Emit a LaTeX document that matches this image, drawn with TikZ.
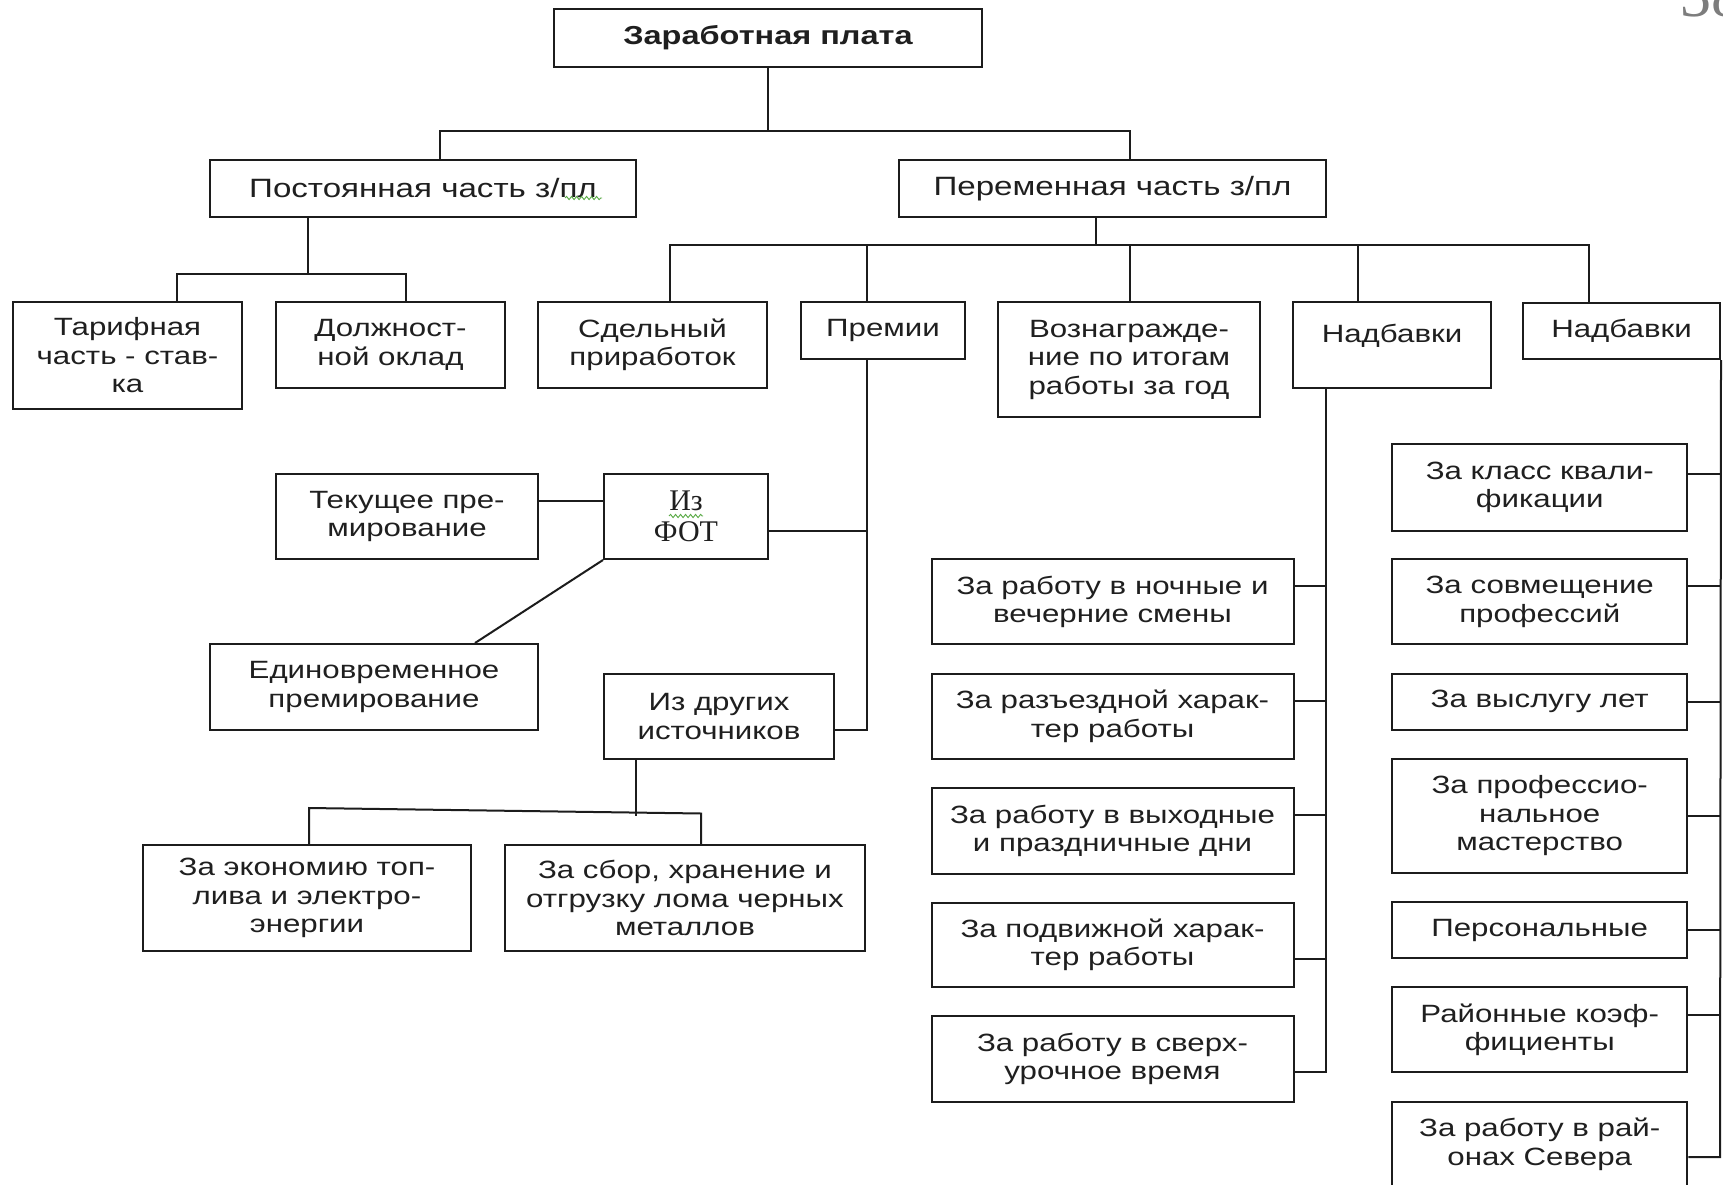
\documentclass[tikz,border=0pt]{standalone}
\usepackage{fontspec}
\usepackage{tikz}
\usetikzlibrary{decorations.pathmorphing}
\newfontfamily\boxfont[FakeStretch=1.25]{Liberation Sans}
\newfontfamily\fotfont{Liberation Serif}
\definecolor{linegray}{RGB}{28,28,28}
\definecolor{spellgreen}{RGB}{90,170,70}
\definecolor{pagegray}{RGB}{125,125,125}
\tikzset{
  box/.style={draw=linegray, line width=2pt, inner sep=0pt, align=center, text=black!88,
    font=\boxfont\fontsize{25}{28.5}\selectfont},
  boxsize/.style 2 args={minimum width=#1pt, minimum height=#2pt},
  link/.style={draw=linegray, line width=2pt},
  squiggle/.style={draw=spellgreen, line width=0.9pt, decorate,
    decoration={snake, amplitude=1.6pt, segment length=5pt}}
}

\begin{document}
\begin{tikzpicture}[x=1pt, y=-1pt]
  \useasboundingbox (0,0) rectangle (1723,1185);
  \node [box, boxsize={428}{58}, font=\boxfont\bfseries\fontsize{26}{29}\selectfont] (AA) at (768, 38) {Заработная плата};
  \node [box, boxsize={426.5}{57}, font=\boxfont\fontsize{26.5}{30}\selectfont] (BA) at (423, 188.5) {Постоянная часть з/пл};
  \node [box, boxsize={427}{57}, font=\boxfont\fontsize{26.5}{30}\selectfont] (BB) at (1112.5, 188.5) {Переменная часть з/пл};
  \node [box, boxsize={229}{107}] (CA) at (127.5, 355.5) {Тарифная\\часть - став-\\ка};
  \node [box, boxsize={229}{86}] (CB) at (390.5, 345) {Должност-\\ной оклад};
  \node [box, boxsize={229}{86}] (CC) at (652.5, 345) {Сдельный\\приработок};
  \node [box, boxsize={164}{57}] (CD) at (883, 330.5) {Премии};
  \node [box, boxsize={262}{115}] (CE) at (1129, 359.5) {Вознагражде-\\ние по итогам\\работы за год};
  \node [box, boxsize={198}{86}, text height=18pt, text depth=24pt] (CF) at (1392, 345) {Надбавки};
  \node [box, boxsize={197}{56}] (CG) at (1621.5, 331) {Надбавки};
  \node [box, boxsize={262.5}{85}] (DA) at (407, 516.5) {Текущее пре-\\мирование};
  \node [box, boxsize={164}{85}, font=\fotfont\fontsize{30}{31}\selectfont] (DB) at (686, 516.5) {Из\\ФОТ};
  \node [box, boxsize={328.5}{86}] (DC) at (374, 687) {Единовременное\\премирование};
  \node [box, boxsize={230}{85}] (DD) at (719, 716.5) {Из других\\источников};
  \node [box, boxsize={328}{106}] (EA) at (307, 898) {За экономию топ-\\лива и электро-\\энергии};
  \node [box, boxsize={360}{106}] (EB) at (685, 898) {За сбор, хранение и\\отгрузку лома черных\\металлов};
  \node [box, boxsize={362}{85.4}] (FA) at (1112.5, 601.7) {За работу в ночные и\\вечерние смены};
  \node [box, boxsize={362}{85.3}] (FB) at (1112.5, 716.4) {За разъездной харак-\\тер работы};
  \node [box, boxsize={362}{85.4}] (FC) at (1112.5, 831) {За работу в выходные\\и праздничные дни};
  \node [box, boxsize={362}{84}] (FD) at (1112.5, 945) {За подвижной харак-\\тер работы};
  \node [box, boxsize={362}{85.5}] (FE) at (1112.5, 1058.8) {За работу в сверх-\\урочное время};
  \node [box, boxsize={295.4}{86.3}] (GA) at (1539.7, 487.5) {За класс квали-\\фикации};
  \node [box, boxsize={295.4}{85.4}] (GB) at (1539.7, 601.7) {За совмещение\\профессий};
  \node [box, boxsize={295.4}{56}] (GC) at (1539.7, 701.8) {За выслугу лет};
  \node [box, boxsize={295.4}{113.7}] (GD) at (1539.7, 815.9) {За профессио-\\нальное\\мастерство};
  \node [box, boxsize={295.4}{56}] (GE) at (1539.7, 930) {Персональные};
  \node [box, boxsize={295.4}{84.7}] (GF) at (1539.7, 1029.7) {Районные коэф-\\фициенты};
  \node [box, boxsize={295.4}{85}] (GG) at (1539.7, 1144.5) {За работу в рай-\\онах Севера};
  \node [anchor=base west, inner sep=0pt, text=pagegray, font=\fotfont\fontsize{62}{62}\selectfont] (PN) at (1680, 17) {38};
  \coordinate (jA) at (768, 131);
  \coordinate (jB) at (308, 274);
  \coordinate (jC) at (1096, 245);
  \coordinate (jD) at (867, 730);
  \coordinate (jE) at (636, 816);
  \coordinate (jEL) at (309, 808);
  \coordinate (jER) at (701, 813.5);
  \coordinate (jF) at (1326, 1072);
  \coordinate (jG) at (1720, 1157);
  \draw [link] (AA) -- (jA);
  \draw [link] (440,0 |- BA.north) |- (jA) -| (1130,0 |- BB.north);
  \draw [link] (308,0 |- BA.south) -- (jB);
  \draw [link] (177,0 |- CA.north) |- (jB) -| (406,0 |- CB.north);
  \draw [link] (1096,0 |- BB.south) -- (jC);
  \draw [link] (670,0 |- CC.north) |- (jC) -| (1589,0 |- CG.north);
  \draw [link] (867,0 |- jC) -- (867,0 |- CD.north);
  \draw [link] (1130,0 |- jC) -- (1130,0 |- CE.north);
  \draw [link] (1358,0 |- jC) -- (1358,0 |- CF.north);
  \draw [link] (867,0 |- CD.south) -- (jD) -- (DD.east |- jD);
  \draw [link] (DB.east |- 0,531) -- (jD |- 0,531);
  \draw [link] (DA.east |- 0,501) -- (DB.west |- 0,501);
  \draw [link] (DB.south west) -- (475,0 |- DC.north);
  \draw [link] (636,0 |- DD.south) -- (jE);
  \draw [link] (jEL |- EA.north) -- (jEL) -- (jER) -- (jER |- EB.north);
  \draw [link] (1326,0 |- CF.south) -- (jF) -- (FE.east |- jF);
  \draw [link] (FA.east |- 0,586) -- (jF |- 0,586);
  \draw [link] (FB.east |- 0,700.5) -- (jF |- 0,700.5);
  \draw [link] (FC.east |- 0,815) -- (jF |- 0,815);
  \draw [link] (FD.east |- 0,959) -- (jF |- 0,959);
  \draw [link] (CG.south east) -- (jG) -- (GG.east |- jG);
  \draw [link] (GA.east |- 0,474) -- (jG |- 0,474);
  \draw [link] (GB.east |- 0,586) -- (jG |- 0,586);
  \draw [link] (GC.east |- 0,701.5) -- (jG |- 0,701.5);
  \draw [link] (GD.east |- 0,816) -- (jG |- 0,816);
  \draw [link] (GE.east |- 0,930) -- (jG |- 0,930);
  \draw [link] (GF.east |- 0,1015) -- (jG |- 0,1015);
  \draw [squiggle] (565,198) -- (602,198);
  \draw [squiggle] (669,516) -- (703,516);
\end{tikzpicture}
\end{document}
